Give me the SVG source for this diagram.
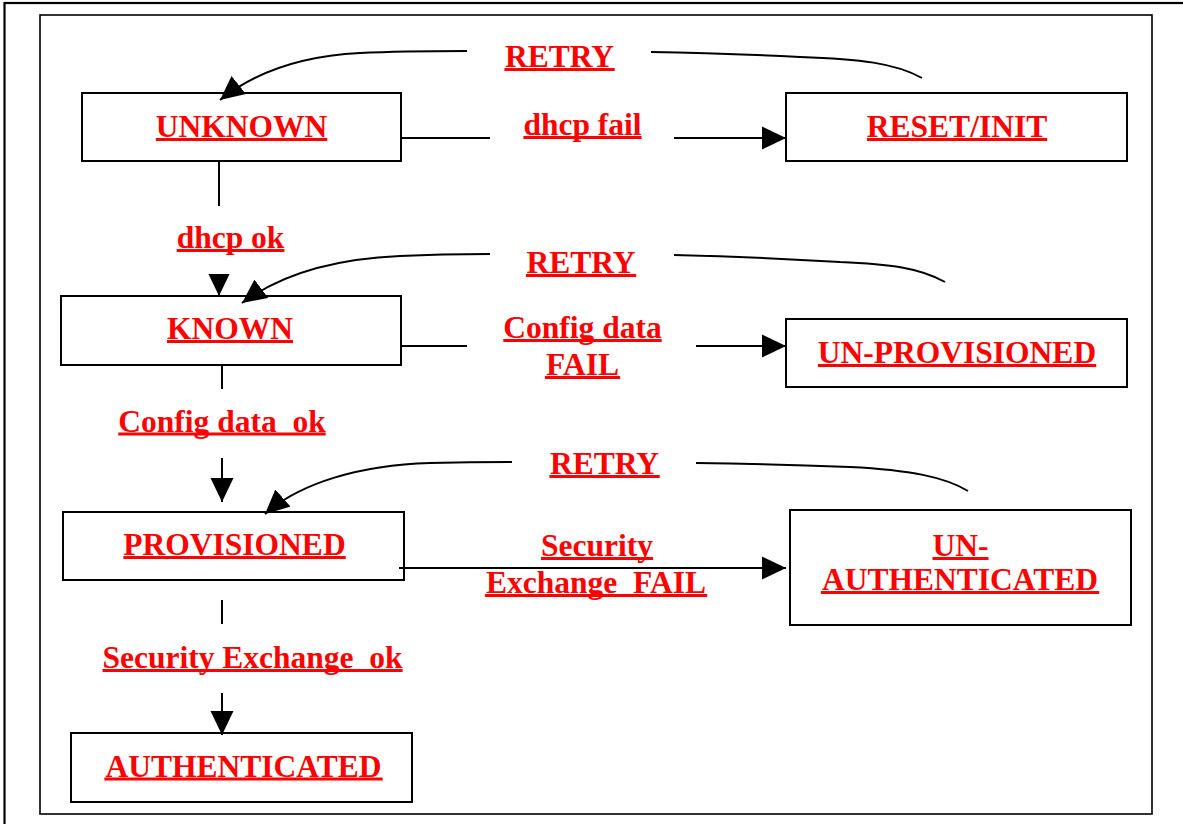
<svg xmlns="http://www.w3.org/2000/svg" width="1183" height="824" viewBox="0 0 1183 824">
  <style>
    .frame { fill: none; stroke: #000; }
    .node rect { fill: #fff; stroke: #000; stroke-width: 2; }
    .node rect.ul, rect.ul { fill: #ff0000; stroke: none; }
    .lbl { font-family: "Liberation Serif", "Times New Roman", serif; font-weight: bold; font-size: 31.5px; fill: #ff0000; text-anchor: middle; white-space: pre; }
    .wire { fill: none; stroke: #000; stroke-width: 2; }
    .arrow { marker-end: url(#head); }
    .mask { fill: #fff; }
  </style>
  <defs>
    <marker id="head" markerUnits="userSpaceOnUse" viewBox="0 0 24 24" markerWidth="24" markerHeight="24" refX="24" refY="12" orient="auto">
      <path d="M0,0.5 L24,12 L0,23.5 z" fill="#000"/>
    </marker>
  </defs>

  <rect width="1183" height="824" fill="#fff"/>
  <!-- page borders -->
  <rect class="frame" x="4.5" y="3" width="1200" height="900" stroke-width="2.2"/>
  <rect class="frame" x="40" y="15" width="1112" height="799" stroke-width="1.6"/>

  <!-- states (underlines are 3px bars under each label) -->
  <g id="unknown" class="node">
    <rect x="82" y="93" width="319" height="68"/>
    <text class="lbl" x="241.5" y="137">UNKNOWN</text>
    <rect class="ul" x="155.8" y="138" width="171.5" height="3"/>
  </g>
  <g id="reset-init" class="node">
    <rect x="786" y="93" width="341" height="68"/>
    <text class="lbl" x="957" y="137">RESET/INIT</text>
    <rect class="ul" x="866.9" y="138" width="180.3" height="3"/>
  </g>
  <g id="known" class="node">
    <rect x="61" y="296" width="340" height="69"/>
    <text class="lbl" x="230" y="339">KNOWN</text>
    <rect class="ul" x="167" y="340" width="126" height="3"/>
  </g>
  <g id="un-provisioned" class="node">
    <rect x="786" y="319" width="341" height="68"/>
    <text class="lbl" x="957" y="363">UN-PROVISIONED</text>
    <rect class="ul" x="817.9" y="364" width="278.3" height="3"/>
  </g>
  <g id="provisioned" class="node">
    <rect x="63" y="512" width="341" height="68"/>
    <text class="lbl" x="234.5" y="555">PROVISIONED</text>
    <rect class="ul" x="123.4" y="556" width="222.3" height="3"/>
  </g>
  <g id="un-authenticated" class="node">
    <rect x="790" y="510" width="341" height="115"/>
    <text class="lbl" x="960.5" y="556">UN-</text>
    <rect class="ul" x="932.5" y="557" width="56" height="3"/>
    <text class="lbl" x="960" y="590">AUTHENTICATED</text>
    <rect class="ul" x="820.9" y="591" width="278.3" height="3"/>
  </g>
  <g id="authenticated" class="node">
    <rect x="71" y="733" width="341" height="69"/>
    <text class="lbl" x="243.5" y="776.5">AUTHENTICATED</text>
    <rect class="ul" x="104.4" y="777.5" width="278.3" height="3"/>
  </g>

  <!-- transitions -->
  <g id="connectors">
    <!-- forward transitions down the left column -->
    <path class="wire arrow" d="M219,161 V296"/>
    <path class="wire arrow" d="M222,365 V502"/>
    <path class="wire arrow" d="M222,600 V735"/>
    <!-- failure transitions to the right -->
    <path class="wire arrow" d="M401,138 H786"/>
    <path class="wire arrow" d="M401,346 H786"/>
    <path class="wire arrow" d="M399,568 H786"/>
    <!-- retry loops back to the left -->
    <path class="wire arrow" d="M922,78 C895,63 860,59 800,57 Q720,53 651,52 L467,51 Q400,51 360,53 C300,56 255,72 220,100"/>
    <path class="wire arrow" d="M945,282 C920,268 890,264 840,262 Q760,257 674,255 L490,254 Q440,254 400,256 C330,259 280,275 242,303"/>
    <path class="wire arrow" d="M968,491 C945,477 910,470 850,467 Q770,464 696,463 L512,462 Q470,462 430,463 C360,465 300,483 265,514"/>

    <!-- transition labels -->
    <g id="lbl-retry-1">
      <rect class="mask" x="467" y="40" width="184" height="36"/>
      <text class="lbl" x="559.5" y="67">RETRY</text>
      <rect class="ul" x="504.4" y="68" width="110.3" height="3"/>
    </g>
    <g id="lbl-dhcp-fail">
      <rect class="mask" x="490" y="112" width="184" height="48"/>
      <text class="lbl" x="582.5" y="135">dhcp fail</text>
      <rect class="ul" x="523.4" y="136" width="118.2" height="3"/>
    </g>
    <g id="lbl-dhcp-ok">
      <rect class="mask" x="170" y="206" width="125" height="68"/>
      <text class="lbl" x="230.5" y="248">dhcp ok</text>
      <rect class="ul" x="176.7" y="249" width="107.7" height="3"/>
    </g>
    <g id="lbl-retry-2">
      <rect class="mask" x="490" y="244" width="184" height="38"/>
      <text class="lbl" x="581" y="273">RETRY</text>
      <rect class="ul" x="525.9" y="274" width="110.3" height="3"/>
    </g>
    <g id="lbl-config-fail">
      <rect class="mask" x="467" y="312" width="229" height="73"/>
      <text class="lbl" x="582.5" y="338">Config data</text>
      <rect class="ul" x="503.3" y="339" width="158.4" height="3"/>
      <text class="lbl" x="582.5" y="375">FAIL</text>
      <rect class="ul" x="544.9" y="376" width="75.3" height="3"/>
    </g>
    <g id="lbl-config-ok">
      <rect class="mask" x="110" y="389" width="225" height="69"/>
      <text class="lbl" x="222" y="431.5">Config data  ok</text>
      <rect class="ul" x="118.3" y="432.5" width="207.4" height="3"/>
    </g>
    <g id="lbl-retry-3">
      <rect class="mask" x="512" y="450" width="184" height="34"/>
      <text class="lbl" x="604.5" y="474">RETRY</text>
      <rect class="ul" x="549.4" y="475" width="110.3" height="3"/>
    </g>
    <g id="lbl-sec-fail">
      <text class="lbl" x="597" y="556">Security</text>
      <rect class="ul" x="541" y="557" width="112" height="3"/>
      <text class="lbl" x="596" y="593">Exchange  FAIL</text>
      <rect class="ul" x="484.9" y="594" width="222.3" height="3"/>
    </g>
    <g id="lbl-sec-ok">
      <rect class="mask" x="95" y="624" width="315" height="69"/>
      <text class="lbl" x="252.5" y="668">Security Exchange  ok</text>
      <rect class="ul" x="102.5" y="669" width="300.1" height="3"/>
    </g>
  </g>
</svg>
